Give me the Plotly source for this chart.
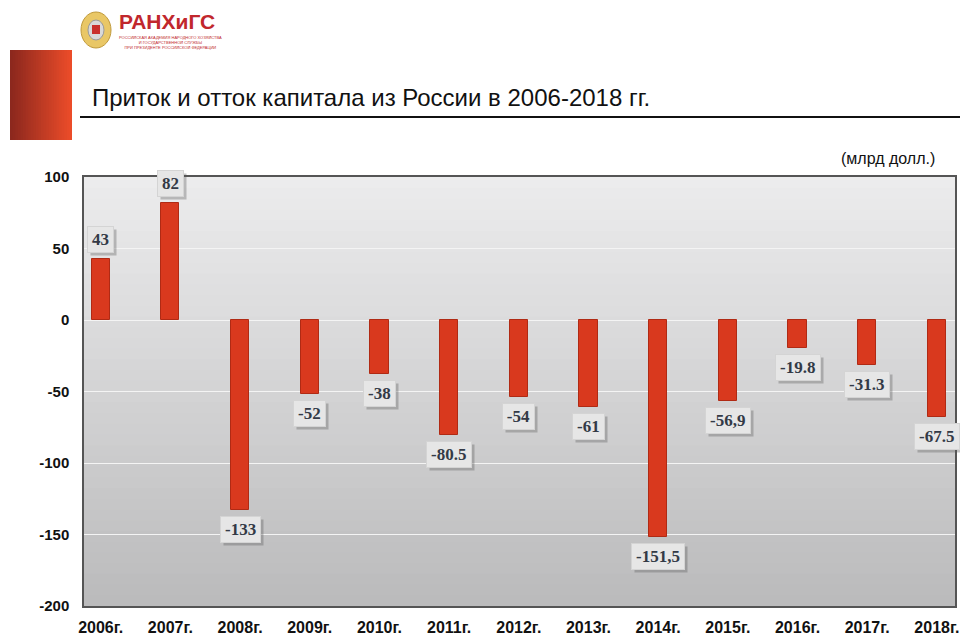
import plotly.graph_objects as go

years = ["2006г.", "2007г.", "2008г.", "2009г.", "2010г.", "2011г.", "2012г.",
         "2013г.", "2014г.", "2015г.", "2016г.", "2017г.", "2018г."]
values = [43, 82, -133, -52, -38, -80.5, -54, -61, -151.5, -56.9, -19.8, -31.3, -67.5]
value_labels = ["43", "82", "-133", "-52", "-38", "-80.5", "-54", "-61",
                "-151,5", "-56,9", "-19.8", "-31.3", "-67.5"]
y_ticks = [100, 50, 0, -50, -100, -150, -200]
y_tick_labels = ["100", "50", "0", "-50", "-100", "-150", "-200"]

title = "Приток и отток капитала из России в 2006-2018 гг."
units = "(млрд долл.)"

NARROW = "Liberation Sans Narrow, Arial Narrow, Liberation Sans, Arial"

# plot area in pixels: left 84, right 955, top 177, bottom 606
L, R, T, B = 84, 955, 177, 606


def px(x):
    return (x - L) / (R - L)


def py(y):
    return (B - y) / (B - T)


def label_width(s):
    w = 0
    for ch in s:
        w += 8.5 if ch.isdigit() else (5.7 if ch == "-" else 4.3)
    return w + 2


fig = go.Figure()

fig.add_trace(go.Bar(
    x=list(range(len(years))), y=values, width=0.26,
    marker=dict(color="#d9391e", line=dict(color="#b02a14", width=1)),
    hoverinfo="x+y", showlegend=False,
))

shapes = []
# gray gradient of the plot area (strips overlap to avoid seams)
n = 40
for i in range(n):
    t = i / n
    c = int(236 - (236 - 186) * t)
    shapes.append(dict(type="rect", xref="paper", yref="paper",
                       x0=0, x1=1, y0=max(0, 1 - (i + 1.6) / n), y1=1 - i / n,
                       fillcolor=f"rgb({c},{c},{c + 1})", line_width=0, layer="below"))

# red block on the left of the header
m = 24
for i in range(m):
    t = i / m
    r = int(140 + (240 - 140) * t)
    g = int(40 + (78 - 40) * t)
    b = int(30 + (42 - 30) * t)
    shapes.append(dict(type="rect", xref="paper", yref="paper",
                       x0=px(10 + 62 * i / m), x1=px(min(72, 10 + 62 * (i + 1.8) / m)),
                       y0=py(140), y1=py(50),
                       fillcolor=f"rgb({r},{g},{b})", line_width=0))

# title underline
shapes.append(dict(type="line", xref="paper", yref="paper",
                   x0=px(80), x1=px(960), y0=py(117), y1=py(117),
                   line=dict(color="#111111", width=2)))

# emblem
shapes.append(dict(type="circle", xref="paper", yref="paper",
                   x0=px(81), x1=px(111), y0=py(48), y1=py(12),
                   fillcolor="#e9c766", line=dict(color="#c09a3c", width=1)))
shapes.append(dict(type="circle", xref="paper", yref="paper",
                   x0=px(88), x1=px(104), y0=py(40), y1=py(20),
                   fillcolor="#d9d9d9", line=dict(color="#9a9a9a", width=1)))
shapes.append(dict(type="rect", xref="paper", yref="paper",
                   x0=px(92), x1=px(100), y0=py(34), y1=py(25),
                   fillcolor="#c9302c", line_width=0))

annotations = []
for i, (v, lab) in enumerate(zip(values, value_labels)):
    pos = v >= 0
    # drop shadow box
    annotations.append(dict(
        x=i, y=v, xref="x", yref="y", text=" ", showarrow=False,
        width=label_width(lab), height=19,
        yanchor="bottom" if pos else "top",
        yshift=(6 if pos else -6) - 3, xshift=3,
        font=dict(size=17), bgcolor="rgba(90,90,90,0.35)",
        borderwidth=1, borderpad=3, bordercolor="rgba(0,0,0,0)",
    ))
    annotations.append(dict(
        x=i, y=v, xref="x", yref="y", text=f"<b>{lab}</b>", showarrow=False,
        width=label_width(lab), height=19,
        yanchor="bottom" if pos else "top",
        yshift=6 if pos else -6,
        font=dict(family="Liberation Serif, Times New Roman, serif", size=17,
                  color="#333a46"),
        bgcolor="#e6e6e6", bordercolor="#d4d4d4",
        borderwidth=1, borderpad=3,
    ))

annotations.append(dict(x=px(90), y=py(97), xref="paper", yref="paper",
                        xanchor="left", yanchor="middle", text=title, showarrow=False,
                        font=dict(family="Liberation Sans, Arial", size=24, color="#111111")))
annotations.append(dict(x=px(937), y=py(158), xref="paper", yref="paper",
                        xanchor="right", yanchor="middle", text=units, showarrow=False,
                        font=dict(family="Liberation Sans, Arial", size=16, color="#111111")))
annotations.append(dict(x=px(117), y=py(21), xref="paper", yref="paper",
                        xanchor="left", yanchor="middle", text="<b>РАНХиГС</b>", showarrow=False,
                        font=dict(family=NARROW, size=21, color="#c1272d")))
annotations.append(dict(x=px(117), y=py(43), xref="paper", yref="paper",
                        xanchor="left", yanchor="middle", showarrow=False,
                        text="РОССИЙСКАЯ АКАДЕМИЯ НАРОДНОГО ХОЗЯЙСТВА<br>"
                             "И ГОСУДАРСТВЕННОЙ СЛУЖБЫ<br>ПРИ ПРЕЗИДЕНТЕ РОССИЙСКОЙ ФЕДЕРАЦИИ",
                        font=dict(family=NARROW, size=4, color="#c1272d")))

fig.update_layout(
    width=960, height=638,
    margin=dict(l=L, r=960 - R, t=T, b=638 - B),
    paper_bgcolor="white", plot_bgcolor="rgba(0,0,0,0)",
    shapes=shapes, annotations=annotations,
    xaxis=dict(tickmode="array", tickvals=list(range(len(years))),
               ticktext=[f"<b>{y}</b>" for y in years],
               range=[-0.24, 12.26], showgrid=False, zeroline=False, automargin=False,
               showline=True, mirror=True, linecolor="#555555", linewidth=1.5,
               ticks="", tickfont=dict(family=NARROW, size=16, color="#111111"),
               ticklabelstandoff=6),
    yaxis=dict(range=[-200, 100], tickmode="array", tickvals=y_ticks,
               ticktext=[f"<b>{t}</b>" for t in y_tick_labels],
               showgrid=True, automargin=False,
               gridcolor="#f4f4f4", gridwidth=1, zeroline=False,
               showline=True, mirror=True, linecolor="#555555", linewidth=1.5,
               ticks="", tickfont=dict(family=NARROW, size=15, color="#111111"),
               ticklabelstandoff=10),
    bargap=0,
)

fig.write_html("out.html", config={"displayModeBar": False},
               post_script="document.body.style.margin='0';"
                           "document.body.style.overflow='hidden';")
